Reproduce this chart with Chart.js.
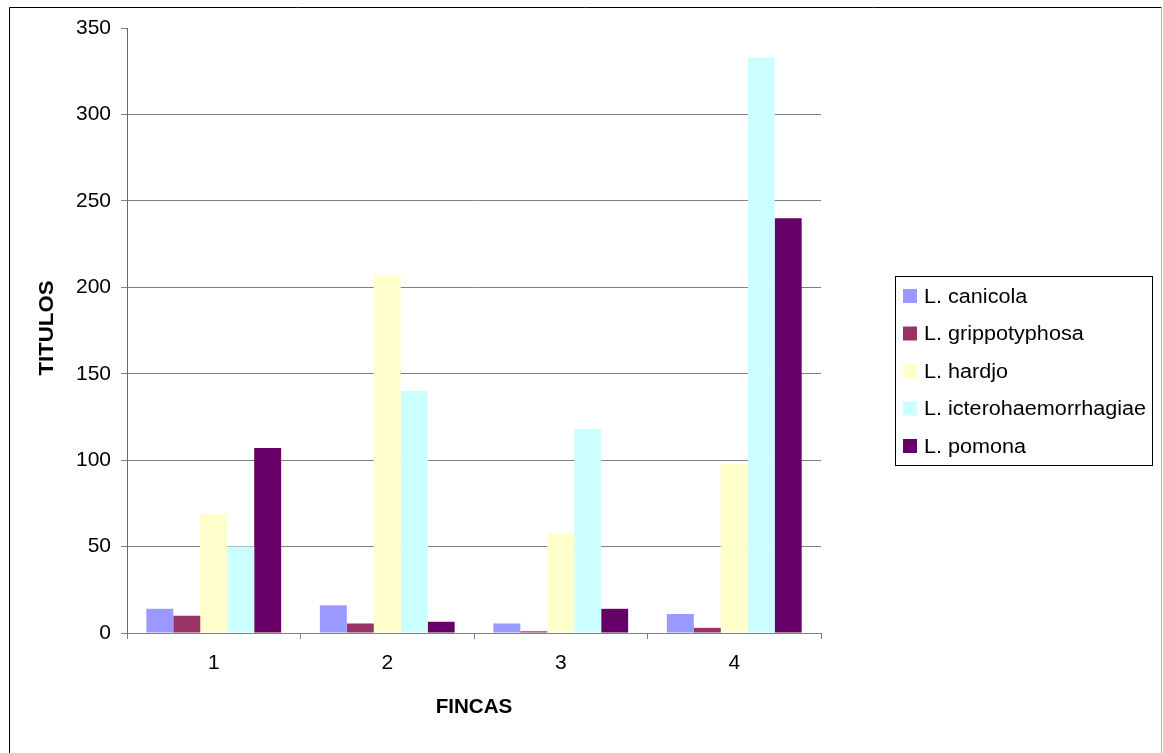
<!DOCTYPE html>
<html>
<head>
<meta charset="utf-8">
<title>Titulos por finca</title>
<script src="https://cdn.jsdelivr.net/npm/chart.js@4/dist/chart.umd.min.js"></script>
<style>
    html, body { margin: 0; padding: 0; background: #fff; }
    #wrap { width: 1163px; height: 753px; }
</style>
</head>
<body>
<div id="wrap"><canvas id="chart" width="1163" height="753"></canvas></div>
<script>
    // Fincas on the x axis
    var fincas = ['1', '2', '3', '4'];

    // Titulos per serovar, one value per finca
    var canicola = [14, 16, 5.5, 11];
    var grippotyphosa = [10, 5.5, 1, 3];
    var hardjo = [69, 207, 57.5, 98];
    var icterohaemorrhagiae = [50, 140, 118, 333];
    var pomona = [107, 6.5, 14, 240];

    var serieNames = ['L. canicola', 'L. grippotyphosa', 'L. hardjo', 'L. icterohaemorrhagiae', 'L. pomona'];
    var serieColors = ['#9999FF', '#993366', '#FFFFCC', '#CCFFFF', '#660066'];
    var serieValues = [canicola, grippotyphosa, hardjo, icterohaemorrhagiae, pomona];

    var FONT = '"Liberation Sans", Arial, sans-serif';
    var GRID = '#808080';

    var datasets = serieNames.map(function (name, i) {
        return {
            label: name,
            data: serieValues[i],
            backgroundColor: serieColors[i],
            borderWidth: 0,
            categoryPercentage: 0.777,
            barPercentage: 1.0
        };
    });

    // text slightly widened, like the old office chart fonts
    function wideText(ctx, text, x, y, sx) {
        ctx.save();
        ctx.translate(x, y);
        ctx.scale(sx, 1);
        ctx.fillText(text, 0, 0);
        ctx.restore();
    }

    // Frame, axis titles and the boxed legend on the right
    var decorPlugin = {
        id: 'decor',
        afterDraw: function (chart) {
            var ctx = chart.ctx;
            var area = chart.chartArea;
            ctx.save();

            // outer frame
            ctx.lineWidth = 1;
            ctx.strokeStyle = '#000';
            ctx.beginPath();
            ctx.moveTo(9.5, 760);
            ctx.lineTo(9.5, 7.5);
            ctx.lineTo(1161.5, 7.5);
            ctx.stroke();
            ctx.strokeStyle = '#b0b0b0';
            ctx.beginPath();
            ctx.moveTo(1161.5, 7.5);
            ctx.lineTo(1161.5, 760);
            ctx.stroke();

            // axis titles
            ctx.fillStyle = '#000';
            ctx.textAlign = 'center';
            ctx.textBaseline = 'middle';
            ctx.font = 'bold 20px ' + FONT;
            wideText(ctx, 'FINCAS', (area.left + area.right) / 2, 707, 1.03);
            ctx.save();
            ctx.translate(47, 328);
            ctx.rotate(-Math.PI / 2);
            ctx.font = 'bold 21px ' + FONT;
            wideText(ctx, 'TITULOS', 0, 0, 1.06);
            ctx.restore();

            // legend
            var lx = 895.5, ly = 276.5, lw = 257, lh = 189;
            ctx.fillStyle = '#fff';
            ctx.fillRect(lx, ly, lw, lh);
            ctx.strokeStyle = '#000';
            ctx.strokeRect(lx, ly, lw, lh);
            ctx.font = '20px ' + FONT;
            ctx.textAlign = 'left';
            ctx.textBaseline = 'middle';
            chart.data.datasets.forEach(function (ds, i) {
                var cy = 296 + i * 37.5;
                ctx.fillStyle = ds.backgroundColor;
                ctx.fillRect(903, cy - 7, 14, 14);
                ctx.fillStyle = '#000';
                wideText(ctx, ds.label, 924, cy + 1, 1.08);
            });

            ctx.restore();
        }
    };

    new Chart(document.getElementById('chart'), {
        type: 'bar',
        data: {
            labels: fincas,
            datasets: datasets
        },
        options: {
            responsive: false,
            animation: false,
            layout: {
                padding: { left: 0, right: 342, top: 28, bottom: 0 }
            },
            plugins: {
                legend: { display: false },
                tooltip: { enabled: false }
            },
            scales: {
                x: {
                    afterFit: function (scale) { scale.height = 120; },
                    grid: {
                        display: true,
                        drawOnChartArea: false,
                        offset: true,
                        tickLength: 6,
                        color: GRID
                    },
                    border: { display: true, color: GRID, width: 1 },
                    ticks: {
                        color: '#000',
                        font: { family: FONT, size: 21 },
                        padding: 12,
                        maxRotation: 0
                    }
                },
                y: {
                    min: 0,
                    max: 350,
                    afterFit: function (scale) { scale.width = 127; },
                    grid: {
                        color: function (c) {
                            return c.tick && c.tick.value === 350 ? 'rgba(0,0,0,0)' : GRID;
                        },
                        tickColor: GRID,
                        tickLength: 6,
                        lineWidth: 1
                    },
                    border: { display: true, color: '#666', width: 1 },
                    ticks: {
                        stepSize: 50,
                        color: '#000',
                        font: { family: FONT, size: 21 },
                        padding: 10
                    }
                }
            }
        },
        plugins: [decorPlugin]
    });
</script>
</body>
</html>
